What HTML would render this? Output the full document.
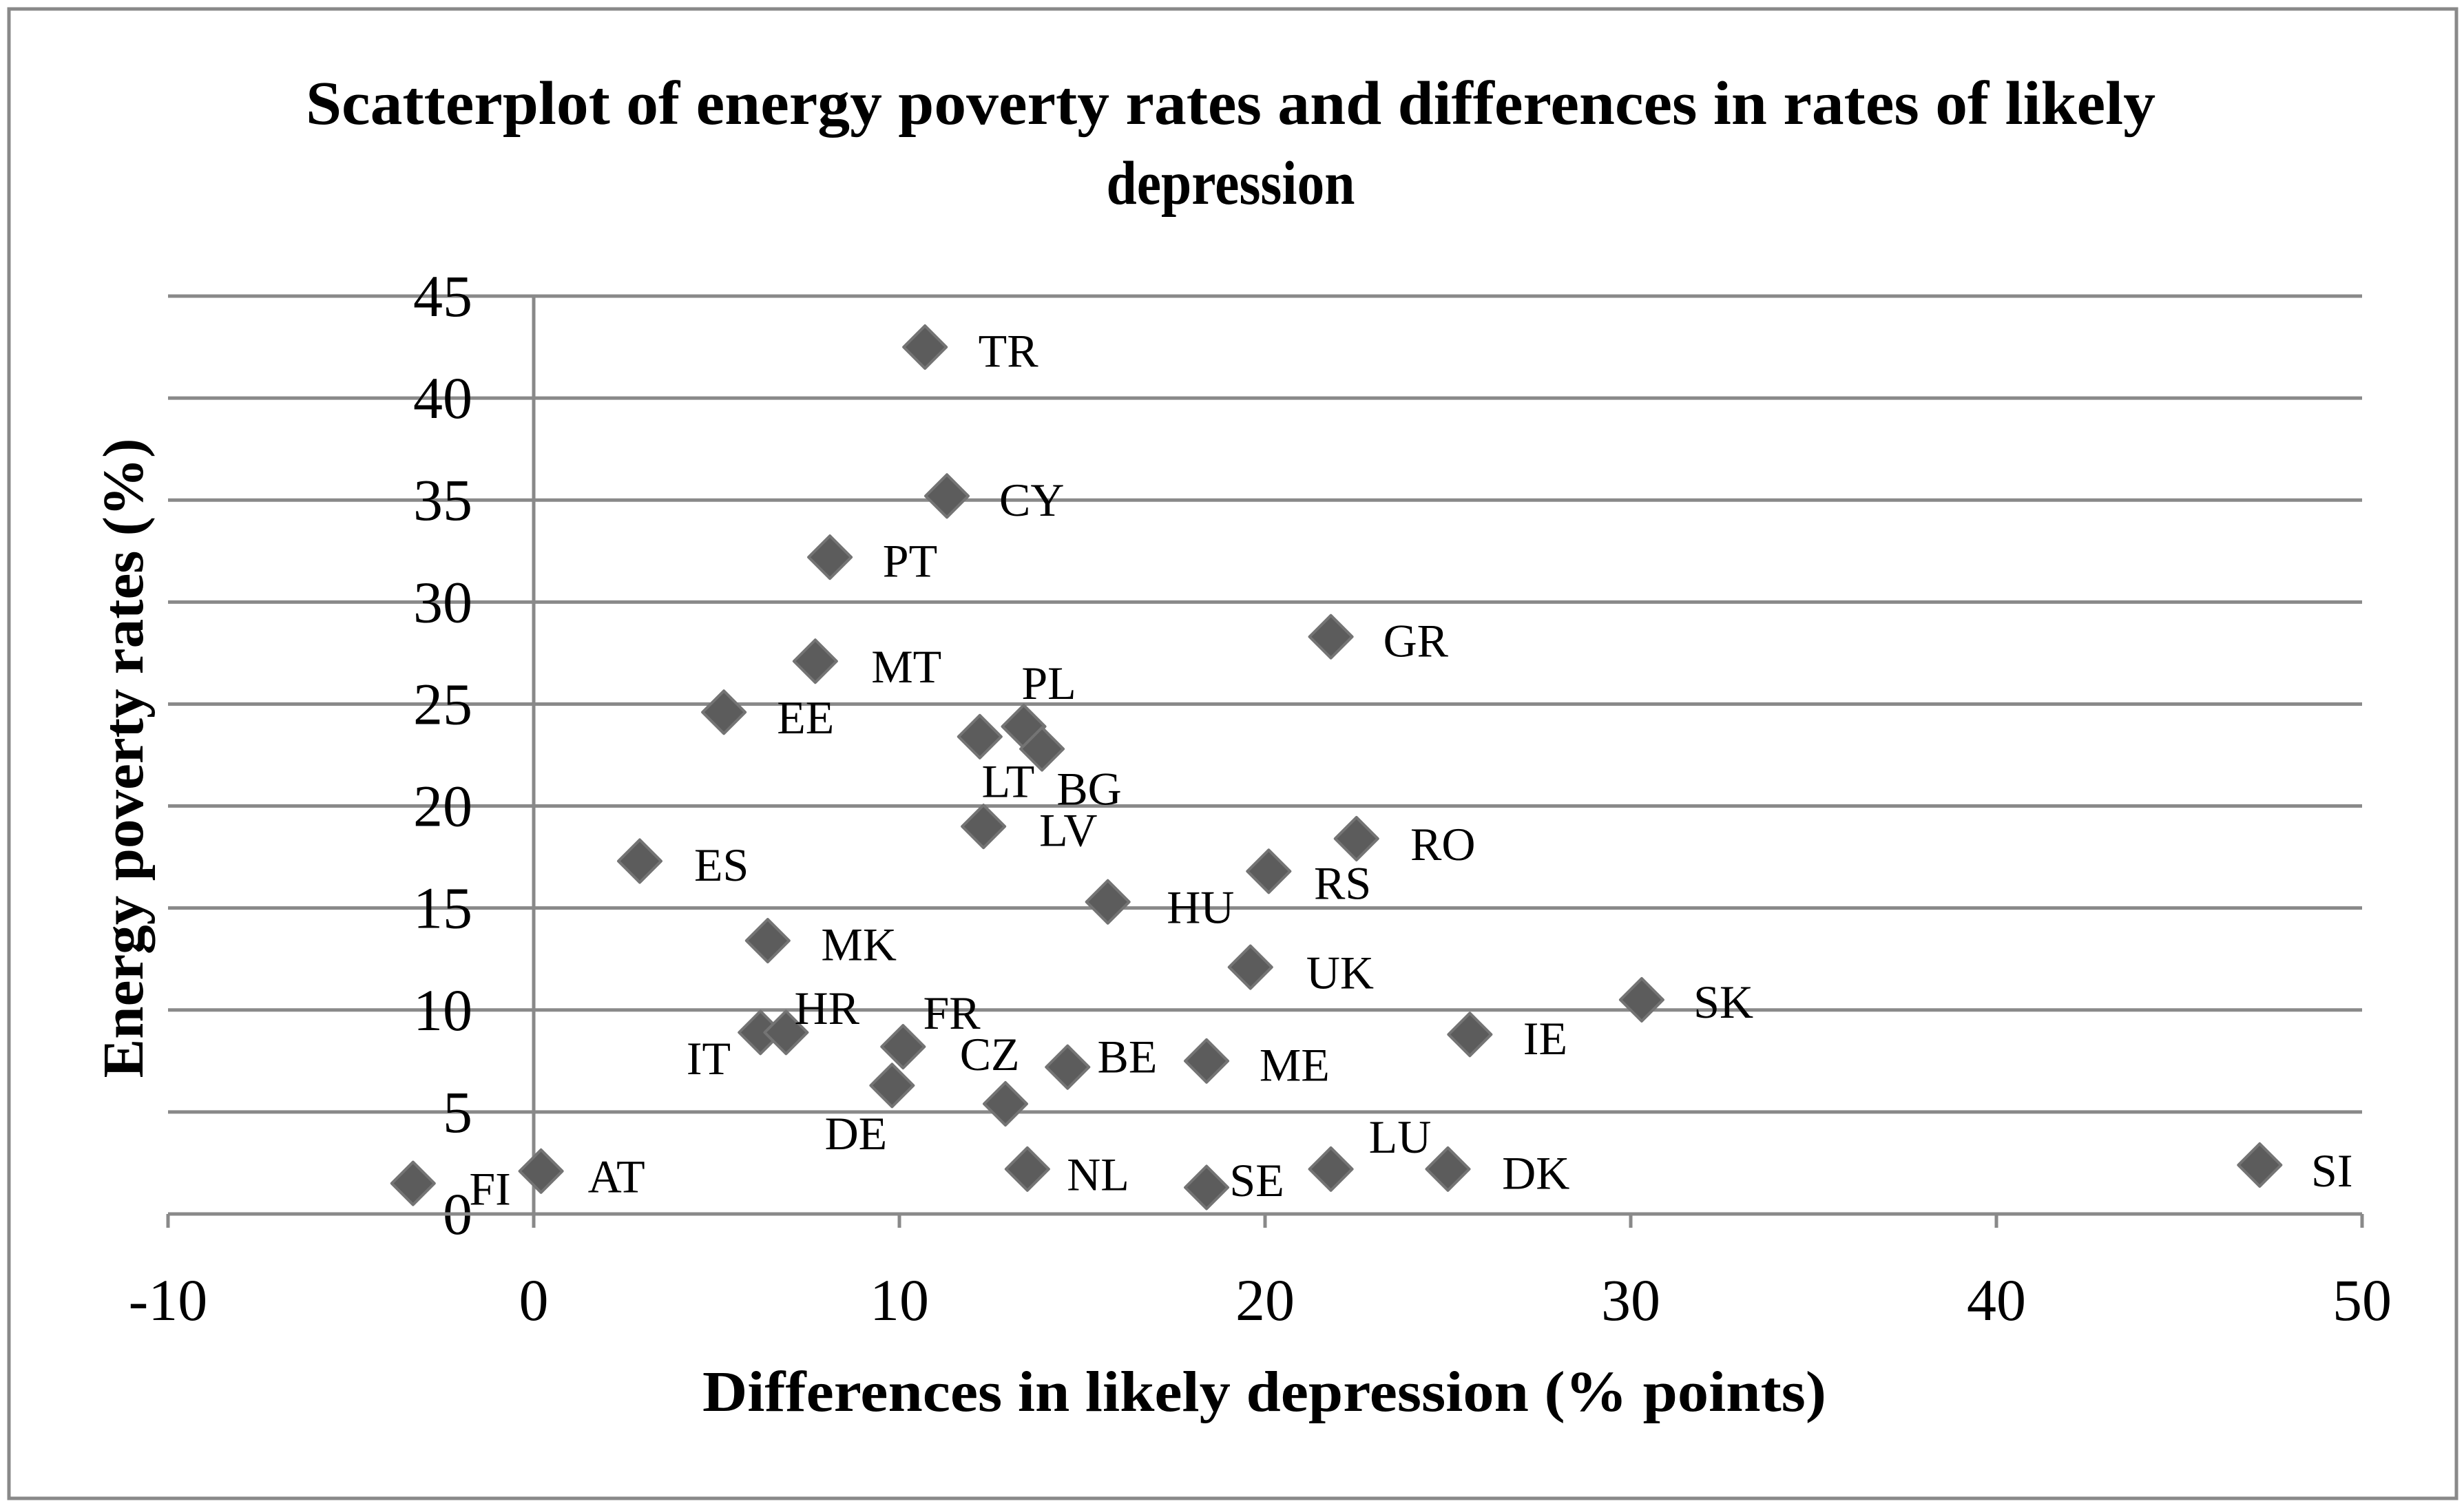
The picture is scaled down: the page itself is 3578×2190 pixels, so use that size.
<!DOCTYPE html>
<html><head><meta charset="utf-8"><style>
html,body{margin:0;padding:0;background:#fff;}
svg{display:block;font-family:"Liberation Serif",serif;}
</style></head><body>
<svg id="chart" width="3578" height="2190" viewBox="0 0 3578 2190" xmlns="http://www.w3.org/2000/svg">
<rect x="13" y="13" width="3554" height="2163" fill="#fff" stroke="#898989" stroke-width="5"/>
<text x="1787" y="180" text-anchor="middle" font-weight="bold" font-size="90" textLength="2686" lengthAdjust="spacingAndGlyphs">Scatterplot of energy poverty rates and differences in rates of likely</text>
<text x="1787" y="296" text-anchor="middle" font-weight="bold" font-size="90" textLength="361" lengthAdjust="spacingAndGlyphs">depression</text>
<g id="grid"></g>
<g id="axes"></g>
<g id="points"></g>
<text transform="translate(207,1101) rotate(-90)" text-anchor="middle" font-weight="bold" font-size="84" textLength="929" lengthAdjust="spacingAndGlyphs">Energy poverty rates (%)</text>
<text x="1836" y="2049" text-anchor="middle" font-weight="bold" font-size="84" textLength="1632" lengthAdjust="spacingAndGlyphs">Differences in likely depression (% points)</text>
</svg>
<script>
const countries=["TR","CY","PT","MT","EE","GR","PL","LT","BG","LV","RO","ES","RS","HU","MK","UK","SK","IE","IT","HR","FR","BE","ME","DE","CZ","NL","LU","DK","SE","SI","FI","AT"];
const depressionDiff=[10.7,11.3,8.1,7.7,5.2,21.8,13.4,12.2,13.9,12.3,22.5,2.9,20.1,15.7,6.4,19.6,30.3,25.6,6.2,6.9,10.1,14.6,18.4,9.8,12.9,13.5,21.8,25.0,18.4,47.2,-3.3,0.2];
const povertyRate=[42.5,35.2,32.2,27.1,24.6,28.3,23.9,23.4,22.8,19.0,18.4,17.3,16.8,15.3,13.4,12.1,10.5,8.8,8.9,8.9,8.2,7.2,7.5,6.3,5.4,2.2,2.2,2.2,1.3,2.4,1.5,2.1];
const labelDx=[53,54,51,58,52,54,16,18,30,54,55,52,47,59,58,57,52,48,-33,26,31,38,56,-23,-10,45,44,56,32,46,49,48];
const labelDy=[2,2,2,3,3,2,-28,28,25,2,3,2,7,3,2,3,1,2,16,-16,-22,-7,2,30,-32,3,-21,2,-5,3,3,3];
const xTicks=[-10,0,10,20,30,40,50];
const yTicks=[0,5,10,15,20,25,30,35,40,45];
const NS="http://www.w3.org/2000/svg";
const X0=244,X1=3430,Y0=1763,Y1=430;
function sx(v){return X0+(v+10)/60*(X1-X0);}
function sy(v){return Y0-v/45*(Y0-Y1);}
function mk(tag,attrs,parent){const e=document.createElementNS(NS,tag);for(const k in attrs)e.setAttribute(k,attrs[k]);parent.appendChild(e);return e;}
const grid=document.getElementById('grid'),axes=document.getElementById('axes'),pts=document.getElementById('points');
yTicks.forEach(t=>{
  if(t>0){const l=mk('line',{x1:X0,x2:X1,y1:sy(t),y2:sy(t),stroke:'#898989','stroke-width':5},grid);
  
  }
  const tx=mk('text',{x:686,y:sy(t)+29,'text-anchor':'end','font-size':86},axes);tx.textContent=t;
  
  
});
const xa=mk('line',{x1:X0,x2:X1,y1:Y0,y2:Y0,stroke:'#898989','stroke-width':5},axes);


const ya=mk('line',{x1:sx(0),x2:sx(0),y1:Y1,y2:Y0+20,stroke:'#898989','stroke-width':5},axes);


xTicks.forEach(t=>{
  const tk=mk('line',{x1:sx(t),x2:sx(t),y1:Y0,y2:Y0+20,stroke:'#898989','stroke-width':5},axes);
  
  
  const tx=mk('text',{x:sx(t),y:1917,'text-anchor':'middle','font-size':86},axes);tx.textContent=t;
  
  
});
const S=2.282,H=31;
countries.forEach((c,i)=>{
  const x=sx(depressionDiff[i]),y=sy(povertyRate[i]);
  const d=mk('polygon',{points:`${x},${y-H} ${x+H},${y} ${x},${y+H} ${x-H},${y}`,fill:'#5c5c5c',stroke:'#747474','stroke-width':4,'stroke-linejoin':'round'},pts);
  
  
  const t=mk('text',{x:x+labelDx[i]*S,y:y+labelDy[i]*S+24,'text-anchor':'middle','font-size':68},pts);
  t.textContent=c;
  
  
});
</script>
</body></html>
